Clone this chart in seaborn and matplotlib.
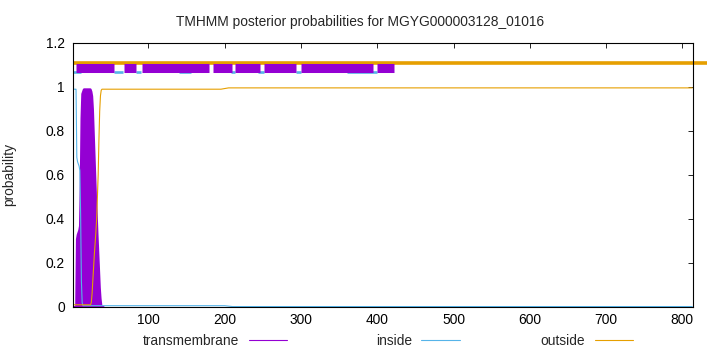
import numpy as np
import pandas as pd
import seaborn as sns
import matplotlib
matplotlib.use("Agg")
import matplotlib.pyplot as plt
from matplotlib.lines import Line2D
from matplotlib.ticker import FuncFormatter

# values, residues 1..40 then a few points for the long tail
residues = np.arange(1, 41)
inside_head = [0.99, 0.99, 0.99, 0.99, 0.99, 0.68, 0.66, 0.65, 0.64, 0.62,
               0.42, 0.12, 0.02] + [0.006] * 27
outside_head = [0.01] * 24 + [0.02, 0.06, 0.12, 0.18, 0.24, 0.29, 0.34, 0.40,
                              0.50, 0.60, 0.76, 0.89, 0.96, 0.985, 0.99, 0.99]
tm_head = [0, 0, 0, 0, 0, 0.31, 0.33, 0.34, 0.35, 0.37,
           0.56, 0.86, 0.97, 0.98, 0.99] + [0.99] * 8 + \
          [0.98, 0.96, 0.90, 0.80, 0.70, 0.60, 0.50, 0.42, 0.33, 0.25,
           0.17, 0.09, 0.04, 0.01, 0, 0, 0]

inside_tail_pos = [200, 210, 813]
inside_tail = [0.006, 0.002, 0.002]
outside_tail_pos = [195, 205, 813]
outside_tail = [0.99, 0.996, 0.996]

# predicted topology segments along the top of the plot
outside_segments = [(1, 833)]
tm_segments = [(5, 55), (68, 84), (92, 179), (185, 209), (214, 246),
               (251, 294), (300, 394), (400, 422)]
inside_segments = [(1, 12), (55, 67), (84, 90), (140, 156), (208, 214),
                   (244, 251), (294, 300), (360, 399)]

seq_len = 814
xticks = [100, 200, 300, 400, 500, 600, 700, 800]
yticks = [0, 0.2, 0.4, 0.6, 0.8, 1.0, 1.2]

colors = {"transmembrane": "#9400D3", "inside": "#56B4E9", "outside": "#E69F00"}

df = pd.concat([
    pd.DataFrame({"position": list(residues) + inside_tail_pos,
                  "probability": inside_head + inside_tail, "state": "inside"}),
    pd.DataFrame({"position": list(residues) + outside_tail_pos,
                  "probability": outside_head + outside_tail, "state": "outside"}),
])

sns.set_theme(style="white")
plt.rcParams["font.family"] = ["Liberation Sans", "DejaVu Sans"]
fs = 9.9

fig = plt.figure(figsize=(7.2, 3.52), dpi=100)
ax = fig.add_axes([73 / 720, 1 - 307 / 352, 620 / 720, 264 / 352])

# transmembrane drawn as a solid filled profile with a thick outline
ax.fill_between(residues, 0, tm_head, facecolor=colors["transmembrane"],
                edgecolor=colors["transmembrane"], lw=2.0, antialiased=False)

sns.lineplot(data=df, x="position", y="probability", hue="state",
             palette=colors, linewidth=0.8, legend=False, ax=ax,
             estimator=None, sort=False)

for a, b in outside_segments:
    ax.hlines(1.11, a, b, color=colors["outside"], lw=2.6, clip_on=False,
              capstyle="butt")
for a, b in inside_segments:
    ax.hlines(1.07, a, b, color=colors["inside"], lw=1.9, capstyle="butt")
for a, b in tm_segments:
    ax.hlines(1.085, a, b, color=colors["transmembrane"], lw=6.5, capstyle="butt")

ax.set_xlim(1, seq_len)
ax.set_ylim(0, 1.2)
ax.set_xticks(xticks)
ax.set_yticks(yticks)
ax.yaxis.set_major_formatter(FuncFormatter(lambda v, p: f"{v:g}"))
ax.tick_params(direction="in", top=True, right=True, length=3.5, width=0.6,
               colors="black", labelsize=fs, pad=4)
ax.tick_params(axis="y", pad=6)
for s in ax.spines.values():
    s.set_color("black")
    s.set_linewidth(0.8)

ax.set_xlabel("")
ax.set_ylabel("probability", fontsize=fs)
ax.yaxis.set_label_coords(-0.092, 0.5)
fig.text(0.5, 1 - 21.7 / 352, "TMHMM posterior probabilities for MGYG000003128_01016",
         ha="center", va="center", fontsize=fs)

# gnuplot-style key: label then sample, three equal columns
for name, right_px in [("transmembrane", 287), ("inside", 460), ("outside", 633)]:
    h = Line2D([], [], color=colors[name], lw=0.8)
    fig.legend([h], [name], loc="center right",
               bbox_to_anchor=(right_px / 720, 1 - 341 / 352),
               frameon=False, markerfirst=False, handlelength=2.8,
               handletextpad=0.7, borderpad=0, borderaxespad=0, fontsize=fs)

fig.savefig("out.png", dpi=100)
